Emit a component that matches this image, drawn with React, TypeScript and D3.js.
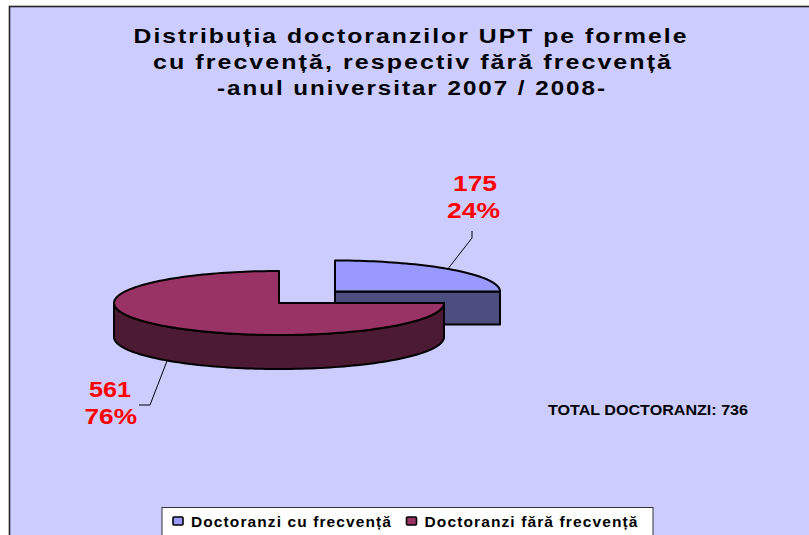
import React from "react";
import * as d3 from "d3";

const categories = ["Doctoranzi cu frecvență", "Doctoranzi fără frecvență"];
const values = [175, 561];
const percents = ["24%", "76%"];
const titleLines = [
  "Distribuția doctoranzilor UPT pe formele",
  "cu frecvență, respectiv fără frecvență",
  "-anul universitar 2007 / 2008-",
];
const totalLabel = "TOTAL DOCTORANZI: 736";
const topColors = ["#9999FF", "#993366"];
const wallColors = ["#4D4D80", "#4D1A33"];

const W = 809;
const H = 535;
const FONT = "'Liberation Sans', Arial, sans-serif";

const titleLayout = [
  { x: 133.5, y: 42.5, w: 555 },
  { x: 153, y: 69, w: 520 },
  { x: 217, y: 94.5, w: 390 },
];

type Geo = { cx: number; cy: number; rx: number; ry: number; depth: number };
const geos: Geo[] = [
  { cx: 335, cy: 291.5, rx: 165, ry: 31, depth: 33 },
  { cx: 279, cy: 303, rx: 165, ry: 32, depth: 34 },
];

const pie = d3.pie<number>().sort(null).startAngle(0).endAngle(2 * Math.PI);
const arcs = pie(values);

// The picture's 3D projection draws the small slice's end edge level with the centre.
const view = d3
  .scaleLinear()
  .domain([0, arcs[0].endAngle, 2 * Math.PI])
  .range([0, Math.PI / 2, 2 * Math.PI]);

function pt(g: Geo, a: number, dy = 0): [number, number] {
  return [g.cx + g.rx * Math.sin(a), g.cy - g.ry * Math.cos(a) + dy];
}
function rim(g: Geo, a0: number, a1: number, dy = 0): [number, number][] {
  const n = Math.max(2, Math.ceil(Math.abs(a1 - a0) / 0.03));
  return d3.range(n + 1).map((i) => pt(g, a0 + ((a1 - a0) * i) / n, dy));
}
const line = d3.line();

function topPath(g: Geo, a0: number, a1: number) {
  return line([[g.cx, g.cy], ...rim(g, a0, a1)])! + "Z";
}
function wallPath(g: Geo, a0: number, a1: number) {
  return line([...rim(g, a0, a1), ...rim(g, a1, a0, g.depth)])! + "Z";
}
function cutPath(g: Geo, a: number) {
  const p = pt(g, a);
  return line([[g.cx, g.cy], p, [p[0], p[1] + g.depth], [g.cx, g.cy + g.depth]])! + "Z";
}

export default function App() {
  const small = arcs[0];
  const big = arcs[1];
  const gS = geos[0];
  const gB = geos[1];
  return (
    <svg
      width={W}
      height={H}
      viewBox={`0 0 ${W} ${H}`}
      style={{ position: "absolute", left: 0, top: 0, background: "#fff" }}
      fontFamily={FONT}
    >
      <rect x={9.5} y={6.5} width={W + 20} height={H + 20} fill="#CCCCFF" stroke="#222" strokeWidth={1.6} />

      <g fontWeight="bold" fontSize={19.5} fill="#000" letterSpacing={1.6}>
        {titleLines.map((t, i) => (
          <text key={t} x={titleLayout[i].x} y={titleLayout[i].y} textLength={titleLayout[i].w} lengthAdjust="spacingAndGlyphs">
            {t}
          </text>
        ))}
      </g>

      {/* small slice */}
      <path d={cutPath(gS, view(small.endAngle))} fill={wallColors[0]} stroke="#000" strokeWidth={2} strokeLinejoin="round" />
      <path d={topPath(gS, view(small.startAngle), view(small.endAngle))} fill={topColors[0]} stroke="#000" strokeWidth={2} strokeLinejoin="round" />

      {/* big slice */}
      <path d={wallPath(gB, view(big.startAngle), 1.5 * Math.PI)} fill={wallColors[1]} stroke="#000" strokeWidth={2} strokeLinejoin="round" />
      <path d={topPath(gB, view(big.startAngle), view(big.endAngle))} fill={topColors[1]} stroke="#000" strokeWidth={2} strokeLinejoin="round" />

      {/* leader lines */}
      <polyline points="472,231 472,238 447,270" fill="none" stroke="#000" strokeWidth={1} />
      <polyline points="167,361 150,405 139,405" fill="none" stroke="#000" strokeWidth={1} />

      <g fontWeight="bold" fontSize={21.5} fill="#FF0000">
        <text x={453} y={191} textLength={44} lengthAdjust="spacingAndGlyphs">{values[0]}</text>
        <text x={447} y={217.5} textLength={53} lengthAdjust="spacingAndGlyphs">{percents[0]}</text>
        <text x={89} y={397} textLength={42} lengthAdjust="spacingAndGlyphs">{values[1]}</text>
        <text x={84.5} y={423.5} textLength={52.5} lengthAdjust="spacingAndGlyphs">{percents[1]}</text>
      </g>

      <text x={548} y={415} fontWeight="bold" fontSize={15.5} fill="#000" textLength={200} lengthAdjust="spacingAndGlyphs">
        {totalLabel}
      </text>

      <rect x={162} y={507.5} width={491} height={40} fill="#fff" stroke="#333" strokeWidth={1} />
      <rect x={173} y={517} width={10} height={8} rx={1} fill={topColors[0]} stroke="#000" strokeWidth={1.6} />
      <rect x={406.5} y={517} width={10} height={8} rx={1} fill={topColors[1]} stroke="#000" strokeWidth={1.6} />
      <g fontWeight="bold" fontSize={14} fill="#000" letterSpacing={1}>
        <text x={191} y={527.3} textLength={201} lengthAdjust="spacingAndGlyphs">{categories[0]}</text>
        <text x={424.5} y={527.3} textLength={214} lengthAdjust="spacingAndGlyphs">{categories[1]}</text>
      </g>
    </svg>
  );
}
